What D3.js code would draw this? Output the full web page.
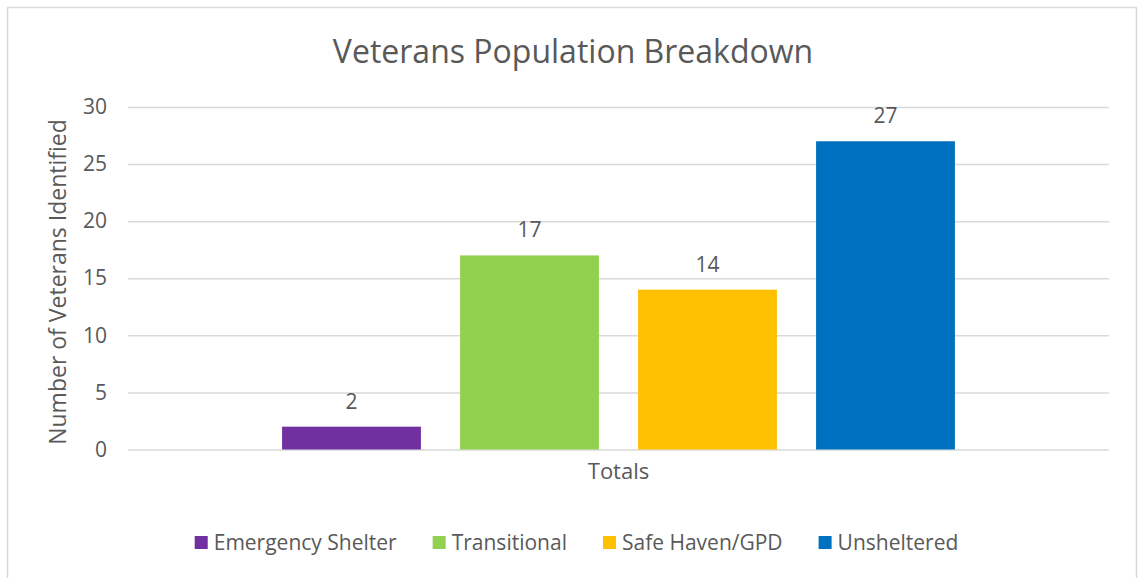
<!DOCTYPE html>
<html>
<head>
<meta charset="utf-8">
<script src="https://cdn.jsdelivr.net/npm/d3@7"></script>
<style>
  body { margin: 0; background: #fff; }
  svg text { font-family: "Open Sans", "Noto Sans", sans-serif; fill: #595959; }
</style>
</head>
<body>
<div id="chart"></div>
<script>
// Chart data
var categories = ["Totals"];
var seriesNames = ["Emergency Shelter", "Transitional", "Safe Haven/GPD", "Unsheltered"];
var seriesValues = [2, 17, 14, 27];
var seriesColors = ["#7030A0", "#92D050", "#FFC000", "#0070C0"];
var yTicks = [0, 5, 10, 15, 20, 25, 30];

// SVG height and width
var svgWidth = 1138;
var svgHeight = 578;

var plot = { left: 128, right: 1109, top: 107, bottom: 449.5 };

var svg = d3.select("#chart")
  .append("svg")
  .attr("width", svgWidth)
  .attr("height", svgHeight);

// Chart frame
svg.append("rect")
  .attr("x", 7.5)
  .attr("y", 7.5)
  .attr("width", 1129)
  .attr("height", 620)
  .attr("fill", "#fff")
  .attr("stroke", "#d9d9d9")
  .attr("stroke-width", 1.5);

// Scales
var yScale = d3.scaleLinear()
  .domain([0, 30])
  .range([plot.bottom, plot.top]);

var x0 = d3.scaleBand()
  .domain(categories)
  .range([plot.left, plot.right])
  .paddingInner(0)
  .paddingOuter(0.229);

var x1 = d3.scaleBand()
  .domain(seriesNames)
  .range([0, x0.bandwidth()])
  .paddingInner(0.22)
  .paddingOuter(0);

// Gridlines + y axis labels
var leftAxis = d3.axisLeft(yScale)
  .tickValues(yTicks)
  .tickSize(-(plot.right - plot.left))
  .tickPadding(21);

var yAxis = svg.append("g")
  .attr("transform", `translate(${plot.left}, 0)`)
  .call(leftAxis);

yAxis.select(".domain").remove();
yAxis.selectAll("line")
  .attr("stroke", "#d9d9d9")
  .attr("stroke-width", 1.5);
yAxis.selectAll("text")
  .attr("font-size", 21)
  .style("font-family", "'Open Sans', sans-serif")
  .attr("fill", "#595959");

// Bars
var groups = svg.selectAll(".cat")
  .data(categories)
  .enter()
  .append("g")
  .attr("class", "cat")
  .attr("transform", d => `translate(${x0(d)}, 0)`);

groups.selectAll("rect")
  .data(seriesNames.map((s, i) => ({ name: s, value: seriesValues[i], color: seriesColors[i] })))
  .enter()
  .append("rect")
  .attr("x", d => x1(d.name))
  .attr("y", d => yScale(d.value))
  .attr("width", x1.bandwidth())
  .attr("height", d => yScale(0) - yScale(d.value))
  .attr("fill", d => d.color);

// Value labels
groups.selectAll(".val")
  .data(seriesNames.map((s, i) => ({ name: s, value: seriesValues[i] })))
  .enter()
  .append("text")
  .attr("class", "val")
  .attr("x", d => x1(d.name) + x1.bandwidth() / 2)
  .attr("y", d => yScale(d.value) - 18)
  .attr("text-anchor", "middle")
  .attr("font-size", 21)
  .text(d => d.value);

// Category label
svg.selectAll(".catlabel")
  .data(categories)
  .enter()
  .append("text")
  .attr("class", "catlabel")
  .attr("x", d => x0(d) + x0.bandwidth() / 2)
  .attr("y", 479)
  .attr("text-anchor", "middle")
  .attr("font-size", 22)
  .text(d => d);

// Title
svg.append("text")
  .attr("x", 573)
  .attr("y", 63)
  .attr("text-anchor", "middle")
  .attr("font-size", 32)
  .text("Veterans Population Breakdown");

// Y axis title
svg.append("text")
  .attr("transform", "translate(66, 282) rotate(-90)")
  .attr("text-anchor", "middle")
  .attr("font-size", 23)
  .text("Number of Veterans Identified");

// Legend
var legend = svg.append("g");
var lx = 0;
seriesNames.forEach(function(name, i) {
  var item = legend.append("g").attr("transform", `translate(${lx}, 0)`);
  item.append("rect")
    .attr("x", 0)
    .attr("y", -14)
    .attr("width", 13)
    .attr("height", 13)
    .attr("fill", seriesColors[i]);
  var t = item.append("text")
    .attr("x", 19)
    .attr("y", 0)
    .attr("font-size", 21)
    .text(name);
  lx += 19 + t.node().getComputedTextLength() + 36;
});
var legendWidth = lx - 36;
legend.attr("transform", `translate(${576.5 - legendWidth / 2}, 550)`);
</script>
</body>
</html>
